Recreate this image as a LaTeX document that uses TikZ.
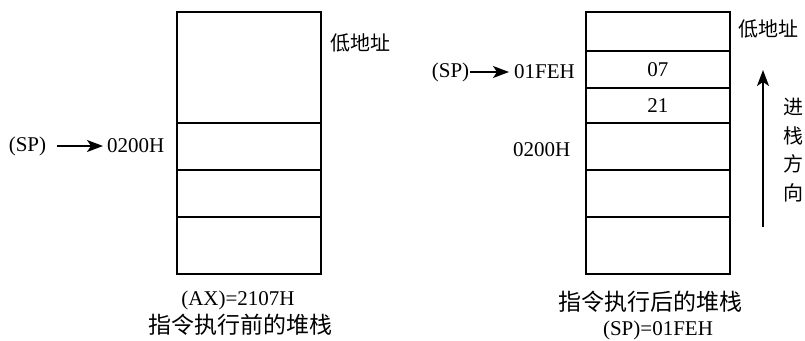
\documentclass[tikz,border=0pt]{standalone}
\usepackage{fontspec}
\setmainfont{Liberation Serif}
\newfontfamily\cjk{Noto Sans CJK SC}
\usetikzlibrary{arrows.meta}
\begin{document}
\begin{tikzpicture}[x=1pt,y=-1pt,
  cell/.style={draw,line width=1.6pt,minimum width=144pt,inner sep=0pt,anchor=north west,font=\fontsize{21}{24}\selectfont},
  lbl/.style={inner sep=0pt,font=\fontsize{21}{24}\selectfont},
  zh/.style={inner sep=0pt,font=\cjk\fontsize{20}{24}\selectfont},
  zhcap/.style={inner sep=0pt,font=\cjk\fontsize{23}{24}\selectfont},
  arr/.style={line width=1.6pt,-{Stealth[length=16pt,width=12pt,inset=4pt]}}]
\useasboundingbox (0,0) rectangle (805,340);
% left stack
\node[cell,minimum height=111pt] (L1) at (176,11) {};
\node[cell,minimum height=47pt] (L2) at (176,122) {};
\node[cell,minimum height=47pt] (L3) at (176,169) {};
\node[cell,minimum height=57pt] (L4) at (176,216) {};
% right stack
\node[cell,minimum height=39pt] (R1) at (585,11) {};
\node[cell,minimum height=37pt] (R2) at (585,50) {07};
\node[cell,minimum height=35pt] (R3) at (585,87) {21};
\node[cell,minimum height=47pt] (R4) at (585,122) {};
\node[cell,minimum height=47pt] (R5) at (585,169) {};
\node[cell,minimum height=57pt] (R6) at (585,216) {};
% left labels
\node[zh,anchor=west] (lowL) at (330,43) {低地址};
\node[lbl] (spL) at (27.5,146) {(SP)};
\node[lbl,anchor=west] (adL) at (107,146) {0200H};
\draw[arr,shorten <=11pt,shorten >=4pt] (spL.east) -- (adL.west);
\node[lbl] (axL) at (238,300) {(AX)=2107H};
\node[zhcap] (capL) at (240,325) {指令执行前的堆栈};
% right labels
\node[zh,anchor=west] (lowR) at (738,29) {低地址};
\node[lbl] (spR) at (450.5,72) {(SP)};
\node[lbl,anchor=west] (adR) at (514,72) {01FEH};
\draw[arr,shorten <=1pt,shorten >=5pt] (spR.east) -- (adR.west);
\node[lbl,anchor=west] (adR2) at (513,150) {0200H};
\coordinate (upA) at (763,227);
\coordinate (upB) at (763,70);
\draw[arr] (upA) -- (upB);
\node[zh,align=center,font=\cjk\fontsize{20}{28.5}\selectfont] (dir) at (793,150) {进\\栈\\方\\向};
\node[zhcap] (capR) at (650,302) {指令执行后的堆栈};
\node[lbl] (spR2) at (658,330) {(SP)=01FEH};
\end{tikzpicture}
\end{document}
